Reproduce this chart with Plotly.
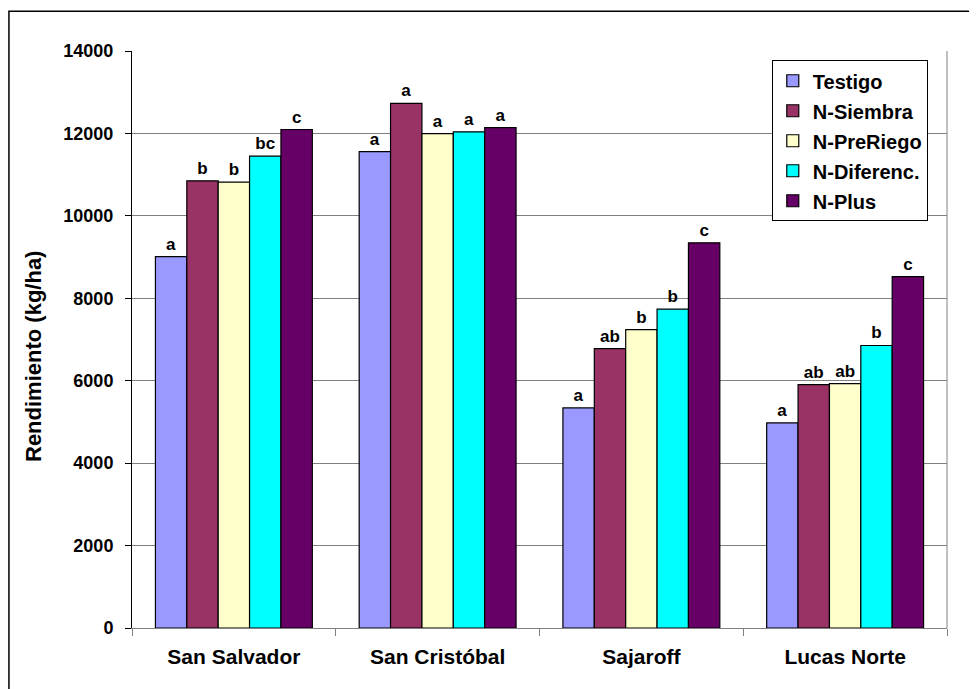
import plotly.graph_objects as go

sites = ["San Salvador", "San Cristóbal", "Sajaroff", "Lucas Norte"]
series_names = ["Testigo", "N-Siembra", "N-PreRiego", "N-Diferenc.", "N-Plus"]
testigo = [9010, 11560, 5340, 4975]
n_siembra = [10850, 12730, 6780, 5905]
n_preriego = [10820, 11995, 7240, 5930]
n_diferenc = [11450, 12040, 7735, 6855]
n_plus = [12095, 12140, 9345, 8525]
letters_testigo = ["a", "a", "a", "a"]
letters_siembra = ["b", "a", "ab", "ab"]
letters_preriego = ["b", "a", "b", "ab"]
letters_diferenc = ["bc", "a", "b", "b"]
letters_plus = ["c", "a", "c", "c"]
y_ticks = [0, 2000, 4000, 6000, 8000, 10000, 12000, 14000]
y_tick_labels = ["0", "2000", "4000", "6000", "8000", "10000", "12000", "14000"]

values = [testigo, n_siembra, n_preriego, n_diferenc, n_plus]
letters = [letters_testigo, letters_siembra, letters_preriego, letters_diferenc, letters_plus]
colors = ["#9999FF", "#993366", "#FFFFCC", "#00FFFF", "#660066"]

FONT = "Liberation Sans, Arial, sans-serif"

fig = go.Figure()
for name, vals, txt, col in zip(series_names, values, letters, colors):
    fig.add_trace(go.Bar(
        name=name, x=sites, y=vals, text=txt,
        textposition="outside", constraintext="none", cliponaxis=False,
        textfont=dict(family=FONT, size=17, color="black", weight="bold"),
        marker=dict(color=col, line=dict(color="black", width=1.2)),
        legendgroup=name,
    ))

fig.update_layout(
    width=969, height=681,
    margin=dict(l=124, r=30, t=43, b=61),
    paper_bgcolor="white", plot_bgcolor="white",
    barmode="group", bargap=0.23, bargroupgap=0,
    showlegend=True,
    legend=dict(
        x=0.785, y=0.984, xanchor="left", yanchor="top",
        bgcolor="white", bordercolor="black", borderwidth=1,
        font=dict(family=FONT, size=20, color="black", weight="bold"),
        tracegroupgap=1, itemwidth=30,
    ),
    xaxis=dict(
        showgrid=False, showline=True, linecolor="#808080", linewidth=1,
        ticks="outside", tickson="boundaries", ticklen=7, tickcolor="#808080",
        ticklabelstandoff=10,
        tickfont=dict(family=FONT, size=21, color="black", weight="bold"),
    ),
    yaxis=dict(
        range=[0, 14000], tickvals=y_ticks, ticktext=y_tick_labels,
        showgrid=True, gridcolor="#808080", gridwidth=1,
        showline=True, linecolor="black", linewidth=1,
        ticks="outside", ticklen=6, tickcolor="black",
        ticklabelstandoff=8,
        tickfont=dict(family=FONT, size=18, color="black", weight="bold"),
        zeroline=False,
    ),
    annotations=[dict(
        text="Rendimiento (kg/ha)", textangle=-90, xref="paper", yref="paper",
        x=-0.120, y=0.47, xanchor="center", yanchor="middle", showarrow=False,
        font=dict(family=FONT, size=22, color="black", weight="bold"),
    )],
    shapes=[
        dict(type="line", xref="paper", yref="paper", x0=1, x1=1, y0=0, y1=1,
             line=dict(color="#808080", width=1)),
        dict(type="rect", xref="paper", yref="paper", x0=-0.151, x1=1.2, y0=-0.3, y1=1.069,
             line=dict(color="black", width=1.5), layer="below"),
    ],
)

fig.write_html("out.html")
